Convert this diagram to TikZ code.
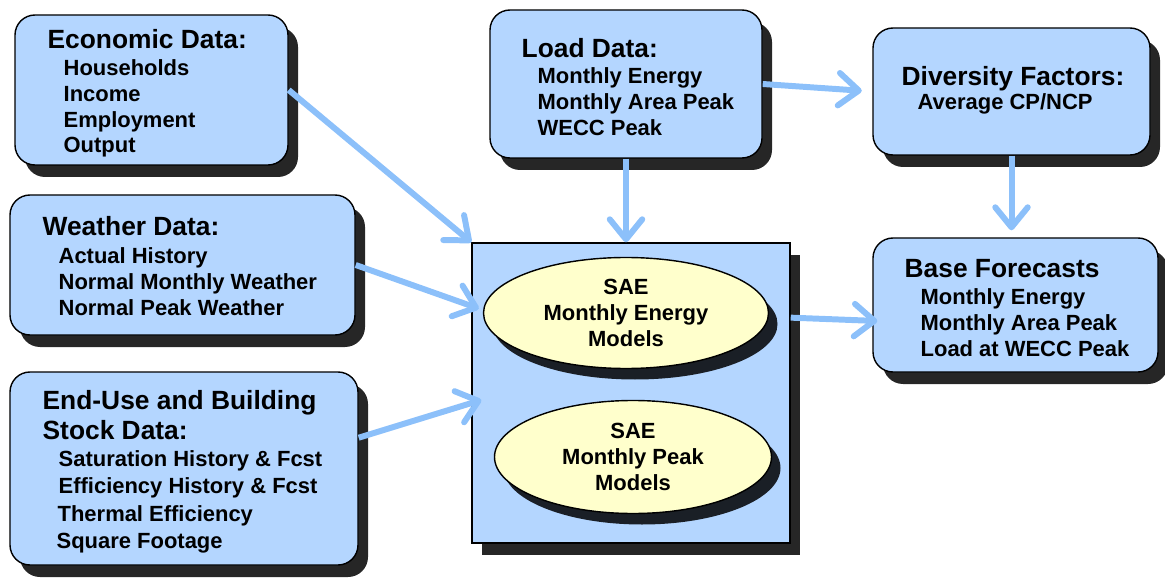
\documentclass[tikz,border=0pt]{standalone}
\usepackage{fontspec}
\setmainfont{Liberation Sans}
\usetikzlibrary{positioning,arrows.meta,calc,shapes.geometric,shadows}
\definecolor{boksblaa}{RGB}{180,214,255}
\definecolor{pilblaa}{RGB}{140,192,250}
\definecolor{modellgul}{RGB}{255,255,204}
\newcommand{\tittel}{\fontsize{15}{17.6}\selectfont}
\newcommand{\inn}{\hspace*{3.2mm}}

\begin{document}
\begin{tikzpicture}[
  skygge/.style={drop shadow={shadow xshift=2mm, shadow yshift=-2.4mm, fill=black, opacity=0.85}},
  boks/.style={draw, line width=0.8pt, rounded corners=4mm, fill=boksblaa, skygge},
  ramme/.style={draw, line width=0.8pt, fill=boksblaa, skygge},
  modell/.style={ellipse, draw, line width=0.8pt, fill=modellgul, align=center, inner sep=0pt,
    font=\fontsize{12.5}{15}\selectfont\bfseries,
    drop shadow={shadow xshift=1.8mm, shadow yshift=-2.2mm, fill=black, opacity=0.85}},
  tekst/.style={anchor=north west, inner sep=0pt, align=left, font=\fontsize{12.5}{14.7}\selectfont\bfseries},
  pil/.style={draw=pilblaa, line width=3.4pt, -{Straight Barb[round, length=4mm, width=6.5mm]}}
]
\useasboundingbox (0,0) rectangle (23.3,11.6);

% input boxes
\node[boks, minimum width=54.6mm, minimum height=30mm] (econ) at (3.03,9.8) {};
\node[boks, minimum width=69mm, minimum height=28mm] (weather) at (3.65,6.3) {};
\node[boks, minimum width=69.6mm, minimum height=38.6mm] (enduse) at (3.68,2.23) {};
\node[boks, minimum width=54.4mm, minimum height=29.6mm] (load) at (12.52,9.92) {};

% output side
\node[boks, minimum width=55.4mm, minimum height=25.4mm] (diversity) at (20.23,9.77) {};
\node[boks, minimum width=57mm, minimum height=26.8mm] (base) at (20.31,5.5) {};

% model block
\node[ramme, minimum width=63.6mm, minimum height=60mm] (model) at (12.62,3.74) {};
\node[modell, minimum width=57mm, minimum height=22.2mm] (energy) at (12.52,5.34) {SAE\\Monthly Energy\\Models};
\node[modell, minimum width=55.4mm, minimum height=22.6mm] (peak) at (12.66,2.46) {SAE\\Monthly Peak\\Models};

% texts
\node[tekst] (econtekst) at ($(econ.north west)+(0.66,-0.3)$)
  {{\tittel Economic Data:}\\[0.5pt]
   \inn Households\\ \inn Income\\ \inn Employment\\ \inn Output};
\node[tekst] (weathertekst) at ($(weather.north west)+(0.66,-0.44)$)
  {{\tittel Weather Data:}\\[1pt]
   \inn Actual History\\ \inn Normal Monthly Weather\\ \inn Normal Peak Weather};
\node[tekst] (endusetekst) at ($(enduse.north west)+(0.66,-0.38)$)
  {{\tittel End-Use and Building}\\[2pt]
   {\tittel Stock Data:}\\[1pt]
   \inn Saturation History \& Fcst\\[0.8pt] \inn Efficiency History \& Fcst\\[0.8pt]
   \hspace*{3mm}Thermal Efficiency\\[0.8pt] \hspace*{2.8mm}Square Footage};
\node[tekst] (loadtekst) at ($(load.north west)+(0.64,-0.58)$)
  {{\tittel Load Data:}\\[0pt]
   \inn Monthly Energy\\ \inn Monthly Area Peak\\ \inn WECC Peak};
\node[tekst] (diversitytekst) at ($(diversity.north west)+(0.58,-0.78)$)
  {{\tittel Diversity Factors:}\\[-1pt]
   \inn Average CP/NCP};
\node[tekst] (basetekst) at ($(base.north west)+(0.64,-0.44)$)
  {{\tittel Base Forecasts}\\[0.5pt]
   \inn Monthly Energy\\ \inn Monthly Area Peak\\ \inn Load at WECC Peak};

% connectors
\draw[pil] (econ.east) -- (model.north west);
\draw[pil] (weather.east) -- ($(model.north west)!0.22!(model.south west)+(0.15,0)$);
\draw[pil] (enduse.10) -- ($(model.west)+(0.2,-0.14)$);
\draw[pil] (load.south) -- (load.south |- model.north);
\draw[pil, shorten >=6pt] (load.east) -- (diversity.west);
\draw[pil, shorten >=4pt] (diversity.south) -- (diversity.south |- base.north);
\draw[pil] ($(model.north east)!0.25!(model.south east)$) -- ($(base.west)+(0.1,-0.32)$);
\end{tikzpicture}
\end{document}
